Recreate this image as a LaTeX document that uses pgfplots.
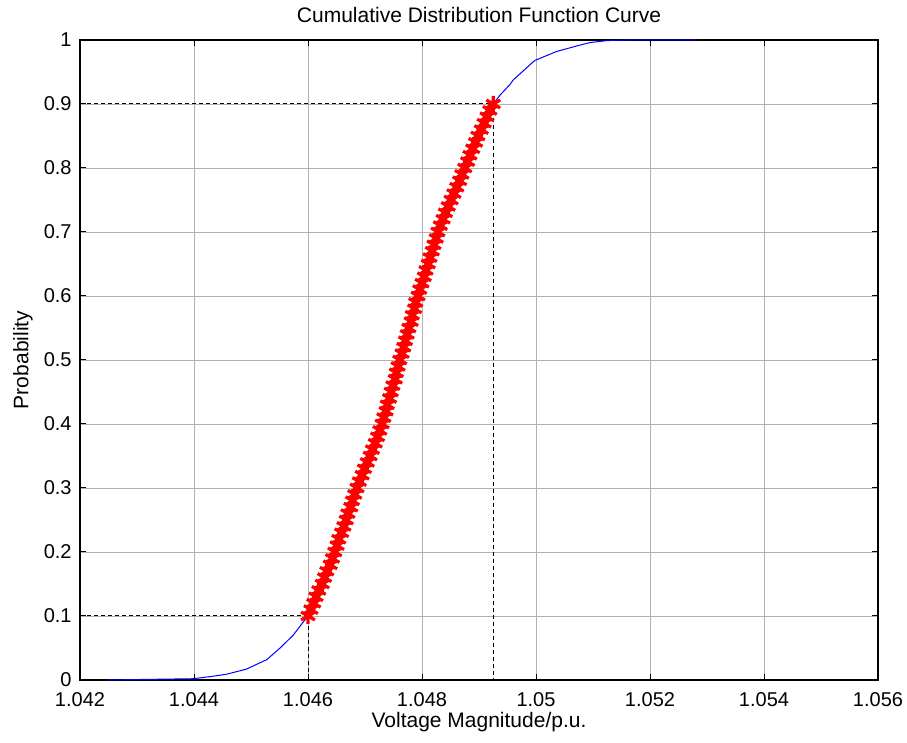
\documentclass[border=0pt]{standalone}
\usepackage{fontspec}
\setmainfont{Liberation Sans}
\usepackage{pgfplots}
\pgfplotsset{compat=1.18}
\begin{document}
\begin{tikzpicture}
\begin{axis}[
  scale only axis,
  width=399pt, height=320pt,
  xmin=1.042, xmax=1.056, ymin=0, ymax=1,
  xtick={1.042,1.044,1.046,1.048,1.05,1.052,1.054,1.056},
  ytick={0,0.1,0.2,0.3,0.4,0.5,0.6,0.7,0.8,0.9,1},
  scaled x ticks=false, scaled y ticks=false,
  xticklabel style={/pgf/number format/fixed,/pgf/number format/precision=3},
  yticklabel style={/pgf/number format/fixed,/pgf/number format/precision=1},
  /pgf/number format/assume math mode=true,
  tick label style={font=\fontsize{10}{12}\selectfont},
  xticklabel style={anchor=base, yshift=-13pt},
  yticklabel style={anchor=east, inner sep=0pt, xshift=-4pt},
  grid=major,
  major grid style={gray!60, line width=0.45pt},
  axis line style={line width=0.6pt},
  major tick style={black, line width=0.5pt},
  major tick length=3pt,
  tick align=inside,
  every axis title shift=0pt,
  title={Cumulative Distribution Function Curve},
  title style={at={(axis description cs:0.5,1.0266)}, anchor=base, font=\fontsize{10.5}{12.6}\selectfont},
  xlabel={Voltage Magnitude/p.u.},
  xlabel style={at={(axis description cs:0.5,-0.0745)}, anchor=base, font=\fontsize{10.5}{12.6}\selectfont},
  ylabel={Probability},
  ylabel style={at={(axis description cs:-0.0714,0.5)}, anchor=center, font=\fontsize{10.5}{12.6}\selectfont},
  clip=false,
]
% blue CDF curve
\addplot[blue, line width=0.5pt, mark=none] coordinates {
(1.04247,0) (1.04399,0.002) (1.04434,0.006) (1.04457,0.009) (1.04492,0.017)
(1.04528,0.032) (1.04551,0.050) (1.04574,0.070) (1.04592,0.091) (1.04600,0.100)
(1.04625,0.15) (1.04647,0.20) (1.04667,0.25) (1.04686,0.30) (1.04709,0.35)
(1.04730,0.40) (1.04746,0.45) (1.04761,0.50) (1.04777,0.55) (1.04793,0.60)
(1.04811,0.65) (1.04828,0.70) (1.04851,0.75) (1.04875,0.80) (1.04898,0.85)
(1.04925,0.90) (1.04937,0.914) (1.04954,0.930) (1.04960,0.9375) (1.04989,0.961)
(1.04998,0.968) (1.05036,0.982) (1.05077,0.992) (1.05095,0.996) (1.05124,0.999)
(1.05160,1.0) (1.05282,1.0)
};
% red marked portion
\addplot[red, only marks, mark=asterisk, mark size=4pt, line width=1.6pt] coordinates {
(1.04600,0.10) (1.04605,0.11) (1.04610,0.12) (1.04614,0.13) (1.04619,0.14)
(1.04625,0.15) (1.04629,0.16) (1.04633,0.17) (1.04639,0.18) (1.04643,0.19)
(1.04647,0.20) (1.04651,0.21) (1.04654,0.22) (1.04659,0.23) (1.04663,0.24)
(1.04667,0.25) (1.04670,0.26) (1.04675,0.27) (1.04678,0.28) (1.04682,0.29)
(1.04686,0.30) (1.04690,0.31) (1.04695,0.32) (1.04699,0.33) (1.04704,0.34)
(1.04709,0.35) (1.04713,0.36) (1.04718,0.37) (1.04722,0.38) (1.04726,0.39)
(1.04730,0.40) (1.04733,0.41) (1.04737,0.42) (1.04739,0.43) (1.04743,0.44)
(1.04746,0.45) (1.04749,0.46) (1.04753,0.47) (1.04755,0.48) (1.04758,0.49)
(1.04761,0.50) (1.04765,0.51) (1.04768,0.52) (1.04771,0.53) (1.04774,0.54)
(1.04777,0.55) (1.04781,0.56) (1.04783,0.57) (1.04787,0.58) (1.04789,0.59)
(1.04793,0.60) (1.04796,0.61) (1.04800,0.62) (1.04804,0.63) (1.04807,0.64)
(1.04811,0.65) (1.04814,0.66) (1.04818,0.67) (1.04821,0.68) (1.04825,0.69)
(1.04828,0.70) (1.04832,0.71) (1.04837,0.72) (1.04841,0.73) (1.04846,0.74)
(1.04851,0.75) (1.04856,0.76) (1.04861,0.77) (1.04866,0.78) (1.04870,0.79)
(1.04875,0.80) (1.04880,0.81) (1.04884,0.82) (1.04889,0.83) (1.04894,0.84)
(1.04898,0.85) (1.04904,0.86) (1.04909,0.87) (1.04914,0.88) (1.04919,0.89)
(1.04925,0.90)
};
% dashed guide lines
\addplot[black, line width=0.5pt, dash pattern=on 2pt off 1.5pt] coordinates {(1.042,0.1) (1.046,0.1) (1.046,0)};
\addplot[black, line width=0.5pt, dash pattern=on 2pt off 1.5pt] coordinates {(1.042,0.9) (1.04925,0.9) (1.04925,0)};
\coordinate (bl) at (rel axis cs:0,0);
\coordinate (tr) at (rel axis cs:1,1);
\end{axis}
\pgfresetboundingbox
\path ([shift={(-40pt,-31pt)}]bl) rectangle ([shift={(14.5pt,20pt)}]tr);
\end{tikzpicture}
\end{document}
